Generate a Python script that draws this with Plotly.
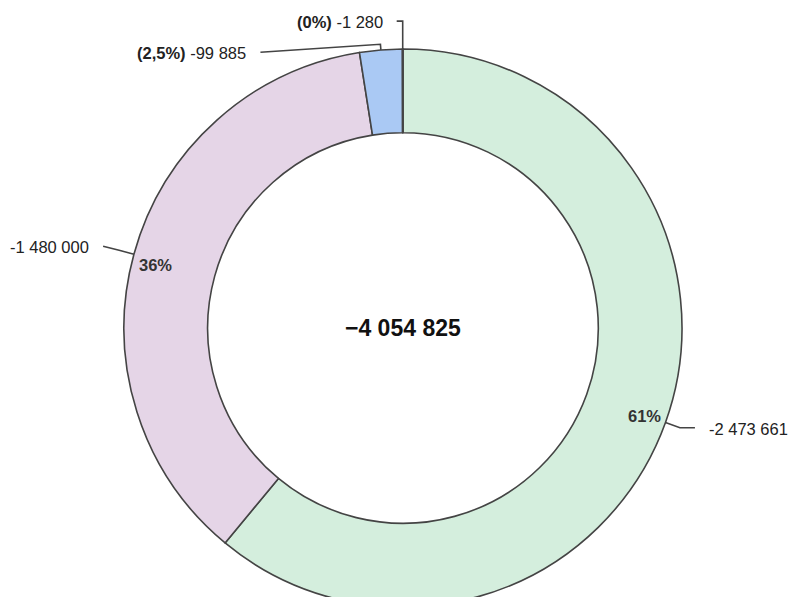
import math
import plotly.graph_objects as go

# ---- data ----
categories = ["Série 1", "Série 2", "Série 3", "Série 4"]
values = [-2473661, -1480000, -99885, -1280]
total_label = -4054825
colors = ["#d4eedd", "#e5d5e7", "#aac9f4", "#f3d9b1"]

# ---- geometry (layout) ----
W, H = 790, 640
CX, CY, R = 403, 328, 279
ML, MR, MT, MB = CX - R, W - CX - R, CY - R, H - CY - R
EDGE = "#444444"
TXT = "#222222"
FONT = "Liberation Sans, Arial, sans-serif"
LABEL_SIZE = 16.5


def fmt_num(v, minus="-"):
    s = f"{abs(int(round(v))):,}".replace(",", " ")
    return (minus if v < 0 else "") + s


def fmt_pct(p, decimals):
    s = f"{p:.{decimals}f}"
    if "." in s:
        s = s.rstrip("0").rstrip(".")
    return s.replace(".", ",") + "%"


def to_paper(px, py):
    return (px - ML) / (2 * R), (H - MB - py) / (2 * R)


def polar(theta, k):
    t = math.radians(theta)
    return CX + k * R * math.sin(t), CY - k * R * math.cos(t)


abs_vals = [abs(v) for v in values]
tot = sum(abs_vals)
fracs = [a / tot for a in abs_vals]
mids = []
acc = 0.0
for f in fracs:
    mids.append((acc + f / 2) * 360.0)
    acc += f

fig = go.Figure(go.Pie(
    labels=categories,
    values=abs_vals,
    sort=False,
    direction="clockwise",
    rotation=0,
    hole=0.7,
    textinfo="none",
    marker=dict(colors=colors, line=dict(color=EDGE, width=1.6)),
    showlegend=False,
    domain=dict(x=[0, 1], y=[0, 1]),
))

# leader-line styles per slice
leader_style = [
    dict(k=1.055, dx=15, dy=0, gap=12, inside=True, in_dy=5),
    dict(k=1.055, dx=-16, dy=-4, gap=12, inside=True, in_dy=-1),
    dict(k=1.02, dx=-120, dy=8, gap=12, inside=False),
    dict(k=1.10, dx=-6, dy=0, gap=12, inside=False),
]

shapes = []
annotations = []
for i, (v, f, m) in enumerate(zip(values, fracs, mids)):
    st = leader_style[i]
    p0 = polar(m, 1.0)
    p1 = polar(m, st["k"])
    p2 = (p1[0] + st["dx"], p1[1] + st["dy"])
    q0, q1, q2 = to_paper(*p0), to_paper(*p1), to_paper(*p2)
    shapes.append(dict(
        type="path", xref="paper", yref="paper",
        path=f"M {q0[0]} {q0[1]} L {q1[0]} {q1[1]} L {q2[0]} {q2[1]}",
        line=dict(color=EDGE, width=1.6),
    ))
    right = st["dx"] > 0
    tx = p2[0] + (st["gap"] if right else -st["gap"])
    tp = to_paper(tx, p2[1] + 1)
    if st["inside"]:
        text = fmt_num(v)
    else:
        text = f"<b>({fmt_pct(f * 100, 1)})</b> " + fmt_num(v)
    annotations.append(dict(
        x=tp[0], y=tp[1], xref="paper", yref="paper", showarrow=False,
        text=text, xanchor="left" if right else "right", yanchor="middle",
        font=dict(family=FONT, size=LABEL_SIZE, color=TXT),
    ))
    if st["inside"]:
        pi = polar(m, 0.99)
        pp = to_paper(pi[0], pi[1] + st["in_dy"])
        s, c = math.sin(math.radians(m)), math.cos(math.radians(m))
        annotations.append(dict(
            x=pp[0], y=pp[1], xref="paper", yref="paper", showarrow=False,
            text=f"<b>{fmt_pct(f * 100, 0)}</b>",
            xanchor="right" if s > 0 else "left",
            yanchor="bottom" if c < 0 else "top",
            font=dict(family=FONT, size=LABEL_SIZE, color="#333333"),
        ))

annotations.append(dict(
    x=0.5, y=0.5, xref="paper", yref="paper", showarrow=False,
    text=f"<b>{fmt_num(total_label, minus='\u2212')}</b>",
    xanchor="center", yanchor="middle",
    font=dict(family=FONT, size=23, color="#111111"),
))

fig.update_layout(
    width=W, height=H,
    margin=dict(l=ML, r=MR, t=MT, b=MB, pad=0),
    paper_bgcolor="white", plot_bgcolor="white",
    shapes=shapes, annotations=annotations,
    font=dict(family=FONT),
)

fig.write_html(
    "out.html",
    config={"displayModeBar": False},
    post_script="document.body.style.margin='0';document.body.style.overflow='hidden';",
)
